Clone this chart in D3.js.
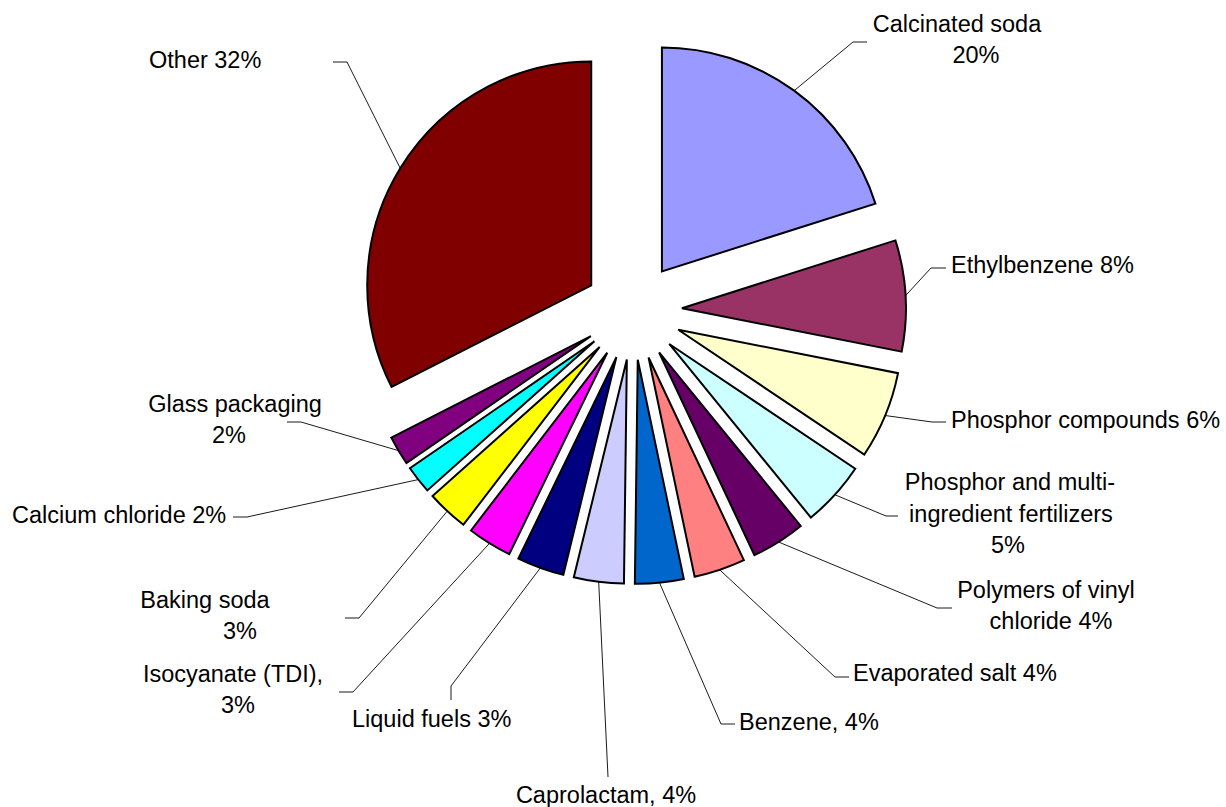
<!DOCTYPE html>
<html>
<head>
<meta charset="utf-8">
<script src="https://cdn.jsdelivr.net/npm/d3@7"></script>
<style>
  body { margin: 0; background: #fff; }
  text { font-family: "Liberation Sans", Arial, sans-serif; font-size: 23.5px; fill: #000; }
</style>
</head>
<body>
<svg id="chart" width="1226" height="807"></svg>
<script>
// chemical industry consumption breakdown (share, %)
const categories = ["Calcinated soda", "Ethylbenzene", "Phosphor compounds",
  "Phosphor and multi-ingredient fertilizers", "Polymers of vinyl chloride",
  "Evaporated salt", "Benzene", "Caprolactam", "Liquid fuels", "Isocyanate (TDI)",
  "Baking soda", "Calcium chloride", "Glass packaging", "Other"];
const shares = [20.1, 8.0, 6.3, 4.7, 3.9, 3.7, 3.5, 3.6, 3.4, 3.2, 3.0, 2.0, 2.1, 32.49];
const colors = ["#9999FF", "#993366", "#FFFFCC", "#CCFFFF", "#660066", "#FF8080", "#0066CC",
  "#CCCCFF", "#000080", "#FF00FF", "#FFFF00", "#00FFFF", "#800080", "#800000"];
// label text, {p} = rounded share
const labelLines = [
  ["Calcinated soda", "{p}%"],
  ["Ethylbenzene {p}%"],
  ["Phosphor compounds {p}%"],
  ["Phosphor and multi-", "ingredient fertilizers", "{p}%"],
  ["Polymers of vinyl", "chloride {p}%"],
  ["Evaporated salt {p}%"],
  ["Benzene, {p}%"],
  ["Caprolactam, {p}%"],
  ["Liquid fuels {p}%"],
  ["Isocyanate (TDI),", "{p}%"],
  ["Baking soda", "{p}%"],
  ["Calcium chloride {p}%"],
  ["Glass packaging", "{p}%"],
  ["Other {p}%"]
];

// where the labels were dragged to (text anchor, line positions, leader elbow + tail)
const labelLayout = [
  {anchor: "middle", pos: [[957, 32], [976, 63]], elbow: [853, 42], tail: [867, 42]},
  {anchor: "start", pos: [[951, 273]], elbow: [931, 268], tail: [946, 268]},
  {anchor: "start", pos: [[951, 428]], elbow: [932, 422], tail: [946, 422]},
  {anchor: "middle", pos: [[1010, 490], [1011, 522], [1008, 553]], elbow: [886, 516], tail: [898, 516]},
  {anchor: "middle", pos: [[1046, 598], [1051, 629]], elbow: [937, 608], tail: [952, 608]},
  {anchor: "start", pos: [[853, 681]], elbow: [835, 677], tail: [849, 677]},
  {anchor: "start", pos: [[739, 730]], elbow: [721, 724], tail: [735, 724]},
  {anchor: "middle", pos: [[606, 803]], elbow: [608, 777], tail: [608, 777]},
  {anchor: "start", pos: [[352, 727]], elbow: [451, 686], tail: [451, 700]},
  {anchor: "middle", pos: [[233, 682], [238, 713]], elbow: [353, 692], tail: [339, 692]},
  {anchor: "middle", pos: [[205, 608], [240, 639]], elbow: [359, 618], tail: [345, 618]},
  {anchor: "start", pos: [[12, 523]], elbow: [247, 517], tail: [233, 517]},
  {anchor: "middle", pos: [[235, 412], [229, 443]], elbow: [301, 422], tail: [287, 422]},
  {anchor: "start", pos: [[149, 68]], elbow: [347, 62], tail: [333, 62]}
];

const svg = d3.select("#chart");
const cx = 633, cy = 311;
const radius = 224;
const explode = 49;

const pie = d3.pie().sort(null).value(d => d);
const arc = d3.arc().innerRadius(0).outerRadius(radius);
const arcs = pie(shares);

const g = svg.append("g").attr("transform", `translate(${cx},${cy})`);

// exploded slices
g.selectAll("path.slice")
  .data(arcs)
  .enter()
  .append("path")
  .attr("class", "slice")
  .attr("d", arc)
  .attr("transform", d => {
    const mid = (d.startAngle + d.endAngle) / 2;
    const [ox, oy] = d3.pointRadial(mid, explode);
    return `translate(${ox},${oy})`;
  })
  .attr("fill", (d, i) => colors[i])
  .attr("stroke", "#000")
  .attr("stroke-width", 2)
  .attr("stroke-linejoin", "miter");

// leader lines: from outer edge of slice at its middle angle to the label
const leader = d3.line();
svg.selectAll("path.leader")
  .data(arcs)
  .enter()
  .append("path")
  .attr("class", "leader")
  .attr("d", (d, i) => {
    const mid = (d.startAngle + d.endAngle) / 2;
    const [ox, oy] = d3.pointRadial(mid, explode);
    const [ex, ey] = d3.pointRadial(mid, radius);
    const L = labelLayout[i];
    return leader([[cx + ox + ex, cy + oy + ey], L.elbow, L.tail]);
  })
  .attr("fill", "none")
  .attr("stroke", "#000")
  .attr("stroke-width", 0.9);

// labels
const labels = svg.selectAll("text.label")
  .data(arcs)
  .enter()
  .append("text")
  .attr("class", "label")
  .attr("text-anchor", (d, i) => labelLayout[i].anchor);

labels.each(function(d, i) {
  const p = Math.round(shares[i]);
  const t = d3.select(this);
  labelLines[i].forEach((line, j) => {
    t.append("tspan")
      .attr("x", labelLayout[i].pos[j][0])
      .attr("y", labelLayout[i].pos[j][1])
      .text(line.replace("{p}", p));
  });
});
</script>
</body>
</html>
